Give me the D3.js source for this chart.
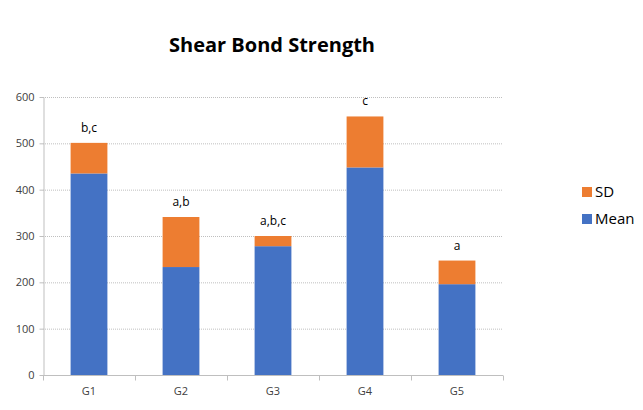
<!DOCTYPE html>
<meta charset="utf-8">
<head>
  <title>Shear Bond Strength</title>
  <script src="https://cdn.jsdelivr.net/npm/d3@7"></script>
  <style>
    body {margin: 0; background: #fff;}
    text {font-family: "Open Sans", "DejaVu Sans", sans-serif;}
  </style>
</head>
<body>
<div id="chart"></div>
<script>
// chart data
var groups = ["G1", "G2", "G3", "G4", "G5"];
var means = [435, 233, 278, 448, 196];
var sds = [66, 108, 22, 110, 51];
var letters = ["b,c", "a,b", "a,b,c", "c", "a"];
var yTicks = [0, 100, 200, 300, 400, 500, 600];
var seriesNames = ["SD", "Mean"];

var colors = {Mean: "#4472C4", SD: "#ED7D31"};

var width = 643, height = 410;
var margin = {top: 97, left: 43, right: 140, bottom: 35};

var svg = d3.select("#chart").append("svg")
  .attr("width", width)
  .attr("height", height);

var x = d3.scaleBand().domain(groups)
  .range([margin.left, width - margin.right])
  .paddingInner(0.6).paddingOuter(0.3);

var y = d3.scaleLinear().domain([0, 600])
  .range([height - margin.bottom, margin.top]);

// title
svg.append("text")
  .attr("x", 272)
  .attr("y", 52)
  .attr("text-anchor", "middle")
  .style("font-size", "20px")
  .style("font-weight", "bold")
  .attr("fill", "#000")
  .text("Shear Bond Strength");

// gridlines
svg.append("g")
  .selectAll("line")
  .data(yTicks.slice(1))
  .enter().append("line")
  .attr("x1", margin.left)
  .attr("x2", width - margin.right)
  .attr("y1", d => y(d) + 0.5)
  .attr("y2", d => y(d) + 0.5)
  .attr("stroke", "#bfbfbf")
  .attr("stroke-dasharray", "1,1");

// y axis
var yAxis = svg.append("g")
  .attr("transform", "translate(" + (margin.left + 0.5) + ",0)")
  .call(d3.axisLeft(y).tickValues(yTicks).tickSize(4).tickSizeOuter(0).tickPadding(5));
yAxis.select(".domain").attr("stroke", "#bfbfbf");
yAxis.selectAll(".tick line").attr("stroke", "#bfbfbf");
yAxis.selectAll("text").style("font-size", "11px").attr("fill", "#404040");

// x axis (category boundaries as tick marks)
var step = x.step();
var xAxis = svg.append("g")
  .attr("transform", "translate(0," + (y(0) + 0.5) + ")");
xAxis.append("line")
  .attr("x1", margin.left)
  .attr("x2", width - margin.right)
  .attr("stroke", "#bfbfbf");
xAxis.selectAll(".bound")
  .data(d3.range(groups.length + 1))
  .enter().append("line")
  .attr("class", "bound")
  .attr("x1", i => margin.left + i * step + 0.5)
  .attr("x2", i => margin.left + i * step + 0.5)
  .attr("y1", 0).attr("y2", 5)
  .attr("stroke", "#bfbfbf");
xAxis.selectAll(".lbl")
  .data(groups)
  .enter().append("text")
  .attr("class", "lbl")
  .attr("x", d => x(d) + x.bandwidth() / 2)
  .attr("y", 19)
  .attr("text-anchor", "middle")
  .style("font-size", "11px")
  .attr("fill", "#404040")
  .text(d => d);

// stacked bars
var rows = groups.map(function(g, i) { return {group: g, Mean: means[i], SD: sds[i], letter: letters[i]}; });
var stack = d3.stack().keys(["Mean", "SD"])(rows);

svg.append("g")
  .selectAll("g")
  .data(stack)
  .enter().append("g")
  .attr("fill", d => colors[d.key])
  .selectAll("rect")
  .data(d => d)
  .enter().append("rect")
  .attr("x", d => x(d.data.group))
  .attr("width", x.bandwidth())
  .attr("y", d => y(d[1]))
  .attr("height", d => y(d[0]) - y(d[1]));

// significance letters
svg.append("g")
  .selectAll("text")
  .data(rows)
  .enter().append("text")
  .attr("x", d => x(d.group) + x.bandwidth() / 2)
  .attr("y", d => y(d.Mean + d.SD) - 11)
  .attr("text-anchor", "middle")
  .style("font-size", "12px")
  .attr("fill", "#000")
  .text(d => d.letter);

// legend
var legend = svg.append("g")
  .attr("transform", "translate(582,187)");
var item = legend.selectAll("g")
  .data(seriesNames)
  .enter().append("g")
  .attr("transform", (d, i) => "translate(0," + i * 27 + ")");
item.append("rect")
  .attr("width", 10).attr("height", 10)
  .attr("fill", d => colors[d]);
item.append("text")
  .attr("x", 13).attr("y", 10)
  .style("font-size", "15px")
  .attr("fill", "#000")
  .text(d => d);
</script>
</body>
</html>
